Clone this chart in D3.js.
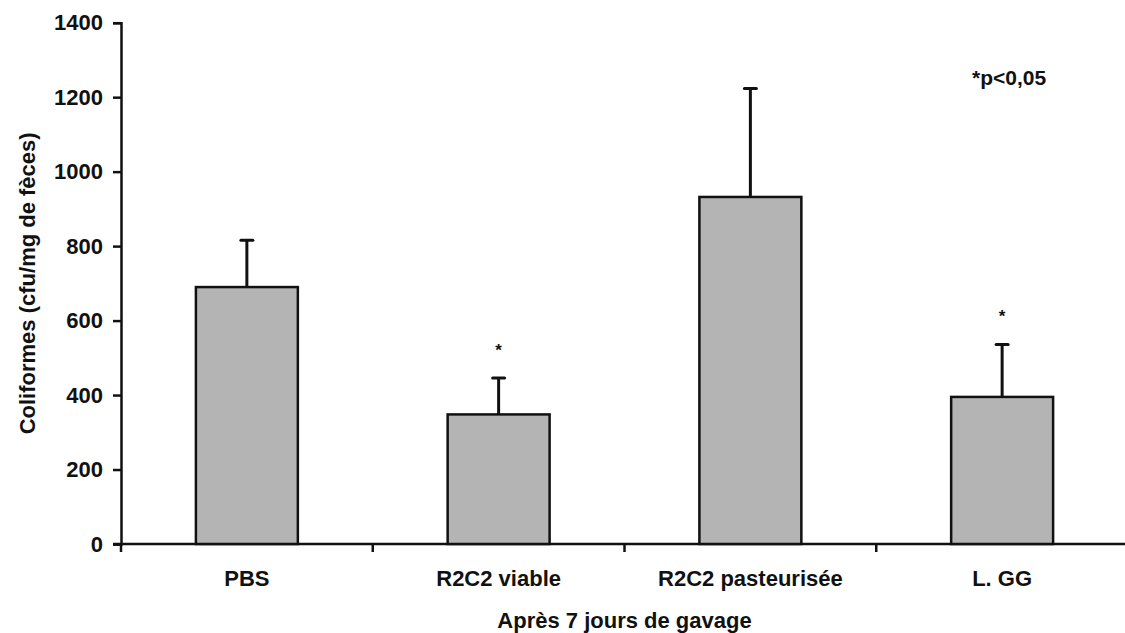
<!DOCTYPE html>
<html>
<head>
<meta charset="utf-8">
<script src="https://cdn.jsdelivr.net/npm/d3@7"></script>
<style>
  body { margin: 0; background: #fff; }
  svg text { font-family: "Liberation Sans", Arial, sans-serif; font-weight: bold; fill: #111; }
</style>
</head>
<body>
<div id="chart"></div>
<script>
// Data
var categories = ["PBS", "R2C2 viable", "R2C2 pasteurisée", "L. GG"];
var means = [690, 348, 932, 395];
var errorTops = [816, 446, 1223, 536];
var significant = [false, true, false, true];
var yTicks = [0, 200, 400, 600, 800, 1000, 1200, 1400];

var W = 1125, H = 633;
var x0 = 121, x1 = 1128, y0 = 544, y1 = 22.7;

var svg = d3.select("#chart").append("svg")
  .attr("width", W).attr("height", H);

var y = d3.scaleLinear().domain([0, 1400]).range([y0, y1]);

// step = width / n, bars ~40% of the step
var x = d3.scaleBand().domain(categories).range([x0, x1])
  .paddingInner(0.595).paddingOuter(0.2975);
var step = (x1 - x0) / categories.length;

var rows = categories.map(function (c, i) {
  return { cat: c, mean: means[i], top: errorTops[i], sig: significant[i] };
});

// y axis
var yAxis = d3.axisLeft(y).tickValues(yTicks).tickFormat(d3.format("d"))
  .tickSize(8).tickPadding(10);
var gy = svg.append("g").attr("transform", "translate(" + x0 + ",0)").call(yAxis);
gy.select(".domain").attr("stroke", "#111").attr("stroke-width", 2.5);
gy.selectAll(".tick line").attr("stroke", "#111").attr("stroke-width", 2.5);
gy.selectAll(".tick text").style("font-size", "22px");

// x axis: ticks at category boundaries
svg.append("line")
  .attr("x1", x0 - 8).attr("x2", x1).attr("y1", y0).attr("y2", y0)
  .attr("stroke", "#111").attr("stroke-width", 2.5);
svg.selectAll(".xtick")
  .data(d3.range(categories.length))
  .enter().append("line")
  .attr("class", "xtick")
  .attr("x1", function (i) { return x0 + i * step; })
  .attr("x2", function (i) { return x0 + i * step; })
  .attr("y1", y0).attr("y2", y0 + 8)
  .attr("stroke", "#111").attr("stroke-width", 2.5);

svg.selectAll(".xlab")
  .data(categories)
  .enter().append("text")
  .attr("class", "xlab")
  .attr("x", function (d) { return x(d) + x.bandwidth() / 2; })
  .attr("y", 586)
  .attr("text-anchor", "middle")
  .style("font-size", "22px")
  .text(function (d) { return d; });

// error bars (upper only), drawn under bars
var eb = svg.selectAll(".err").data(rows).enter().append("g");
eb.append("line")
  .attr("x1", function (d) { return x(d.cat) + x.bandwidth() / 2; })
  .attr("x2", function (d) { return x(d.cat) + x.bandwidth() / 2; })
  .attr("y1", function (d) { return y(d.mean); })
  .attr("y2", function (d) { return y(d.top); })
  .attr("stroke", "#111").attr("stroke-width", 3);
eb.append("line")
  .attr("x1", function (d) { return x(d.cat) + x.bandwidth() / 2 - 6; })
  .attr("x2", function (d) { return x(d.cat) + x.bandwidth() / 2 + 6; })
  .attr("y1", function (d) { return y(d.top); })
  .attr("y2", function (d) { return y(d.top); })
  .attr("stroke", "#111").attr("stroke-width", 3).attr("stroke-linecap", "round");

// bars
svg.selectAll(".bar")
  .data(rows)
  .enter().append("rect")
  .attr("class", "bar")
  .attr("x", function (d) { return x(d.cat); })
  .attr("width", x.bandwidth())
  .attr("y", function (d) { return y(d.mean); })
  .attr("height", function (d) { return y0 - y(d.mean); })
  .attr("fill", "#b4b4b4")
  .attr("stroke", "#111").attr("stroke-width", 2.5);

// significance stars
svg.selectAll(".star")
  .data(rows.filter(function (d) { return d.sig; }))
  .enter().append("text")
  .attr("x", function (d) { return x(d.cat) + x.bandwidth() / 2; })
  .attr("y", function (d) { return y(d.top) - 22; })
  .attr("text-anchor", "middle")
  .style("font-size", "17px")
  .text("*");

svg.append("text")
  .attr("x", 972).attr("y", 85)
  .style("font-size", "21px")
  .text("*p<0,05");

// axis titles, centred on the plot area
svg.append("text")
  .attr("x", (x0 + x1) / 2).attr("y", 628)
  .attr("text-anchor", "middle")
  .style("font-size", "22px")
  .text("Après 7 jours de gavage");

svg.append("text")
  .attr("transform", "translate(35," + ((y0 + y1) / 2) + ") rotate(-90)")
  .attr("text-anchor", "middle")
  .style("font-size", "22px")
  .text("Coliformes (cfu/mg de fèces)");
</script>
</body>
</html>
